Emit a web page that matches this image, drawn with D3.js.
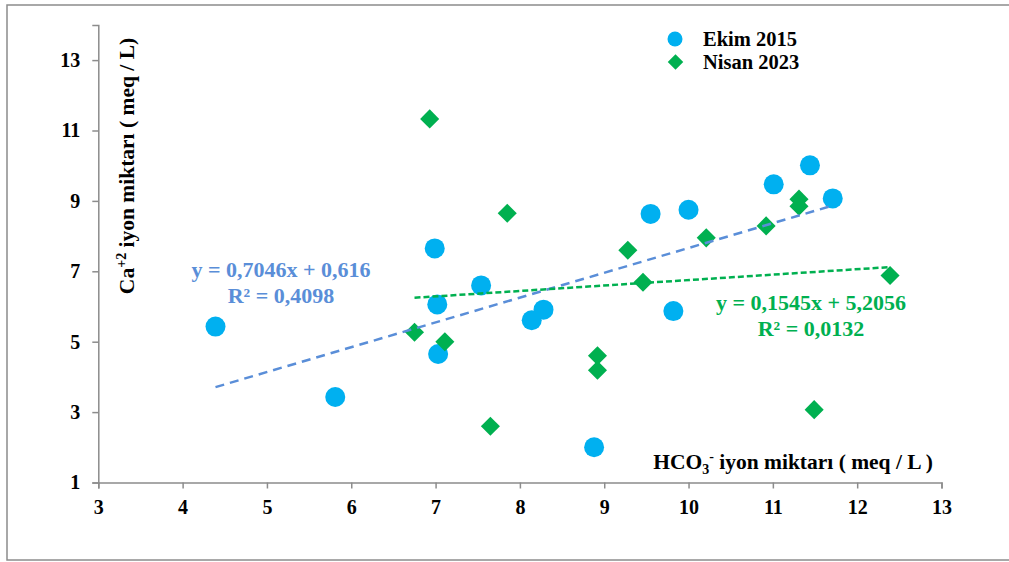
<!DOCTYPE html>
<html>
<head>
<meta charset="utf-8">
<script src="https://cdn.jsdelivr.net/npm/d3@7"></script>
<style>
  html, body { margin: 0; padding: 0; background: #fff; }
  svg { display: block; }
  text { font-family: "Liberation Serif", "Times New Roman", serif; font-weight: bold; }
</style>
</head>
<body>
<svg id="chart" width="1009" height="562"></svg>
<script>
// HCO3- (x) vs Ca+2 (y), meq/L
const ekimX = [4.39, 5.81, 6.99, 7.02, 7.03, 7.54, 8.14, 8.28, 8.88, 9.55, 10.00, 9.82, 11.01, 11.44, 11.71];
const ekimY = [5.43, 3.43, 7.65, 6.06, 4.65, 6.60, 5.61, 5.91, 2.00, 8.63, 8.75, 5.87, 9.47, 10.01, 9.07];

const nisanX = [6.75, 6.93, 7.11, 7.65, 7.85, 8.92, 8.92, 9.28, 9.46, 10.21, 10.92, 11.31, 11.31, 11.49, 12.39];
const nisanY = [5.27, 11.33, 5.00, 2.60, 8.65, 4.60, 4.19, 7.60, 6.69, 7.95, 8.29, 9.05, 8.85, 3.07, 6.88];

// Linear trendlines (slope, intercept, R²)
const ekimFit = { slope: 0.7046, intercept: 0.616, r2: "0,4098", eq: "y = 0,7046x + 0,616" };
const nisanFit = { slope: 0.1545, intercept: 5.2056, r2: "0,0132", eq: "y = 0,1545x + 5,2056" };

const seriesNames = ["Ekim 2015", "Nisan 2023"];
const xTicks = [3, 4, 5, 6, 7, 8, 9, 10, 11, 12, 13];
const yTicks = [1, 3, 5, 7, 9, 11, 13];

const blue = "#00B0F0", green = "#00B050", trendBlue = "#5A8ED8";

const svg = d3.select("#chart");

// outer chart frame
svg.append("rect")
  .attr("x", 7).attr("y", 5).attr("width", 1010).attr("height", 555)
  .attr("fill", "none").attr("stroke", "#8c8c8c").attr("stroke-width", 1.5);

const x = d3.scaleLinear().domain([3, 13]).range([98.3, 941.5]);
const y = d3.scaleLinear().domain([1, 14]).range([482.5, 24.9]);

// axes
const xAxis = svg.append("g").attr("transform", `translate(0,${y(1)})`)
  .call(d3.axisBottom(x).tickValues(xTicks).tickSize(6).tickPadding(10).tickFormat(d3.format("d")));
const yAxis = svg.append("g").attr("transform", `translate(${x(3)},0)`)
  .call(d3.axisLeft(y).tickValues(yTicks).tickSize(6).tickPadding(12).tickFormat(d3.format("d")));

[xAxis, yAxis].forEach(g => {
  g.select(".domain").attr("stroke", "#8c8c8c").attr("stroke-width", 1.5);
  g.selectAll(".tick line").attr("stroke", "#8c8c8c").attr("stroke-width", 1.5);
  g.selectAll(".tick text").attr("fill", "#000").style("font-size", "20px")
    .style("font-family", "'Liberation Serif', 'Times New Roman', serif").style("font-weight", "bold");
});
xAxis.selectAll(".tick text").attr("dy", "0.75em");

// axis titles
const yTitle = svg.append("text")
  .attr("transform", `translate(134,166) rotate(-90)`)
  .attr("text-anchor", "middle").attr("fill", "#000").style("font-size", "21.5px");
yTitle.append("tspan").text("Ca");
yTitle.append("tspan").text("+2").style("font-size", "14px").attr("dy", "-8");
yTitle.append("tspan").text(" iyon miktarı ( meq / L)").attr("dy", "8");

const xTitle = svg.append("text")
  .attr("x", 933).attr("y", 469)
  .attr("text-anchor", "end").attr("fill", "#000").style("font-size", "21.5px");
xTitle.append("tspan").text("HCO");
xTitle.append("tspan").text("3").style("font-size", "14px").attr("dy", "5");
xTitle.append("tspan").text("-").style("font-size", "14px").attr("dy", "-13");
xTitle.append("tspan").text(" iyon miktarı ( meq / L )").attr("dy", "8");

// trendlines
function trend(xs, fit, color, dash) {
  const x0 = d3.min(xs), x1 = d3.max(xs);
  svg.append("line")
    .attr("x1", x(x0)).attr("y1", y(fit.slope * x0 + fit.intercept))
    .attr("x2", x(x1)).attr("y2", y(fit.slope * x1 + fit.intercept))
    .attr("stroke", color).attr("stroke-width", 2.5).attr("stroke-dasharray", dash);
}

// markers
const ekim = ekimX.map((v, i) => ({ x: v, y: ekimY[i] }));
const nisan = nisanX.map((v, i) => ({ x: v, y: nisanY[i] }));

svg.append("g").selectAll("circle").data(ekim).join("circle")
  .attr("cx", d => x(d.x)).attr("cy", d => y(d.y)).attr("r", 10).attr("fill", blue);

const diamond = d3.symbol(d3.symbolSquare, 182);
svg.append("g").selectAll("path").data(nisan).join("path")
  .attr("d", diamond)
  .attr("transform", d => `translate(${x(d.x)},${y(d.y)}) rotate(45)`)
  .attr("fill", green);

trend(ekimX, ekimFit, trendBlue, "9,6");
trend(nisanX, nisanFit, green, "6,3");

// trendline equations
function eqLabel(cx, cy, fit, color) {
  const t = svg.append("text").attr("text-anchor", "middle").attr("fill", color).style("font-size", "22px");
  t.append("tspan").attr("x", cx).attr("y", cy).text(fit.eq);
  t.append("tspan").attr("x", cx).attr("y", cy + 26).text("R² = " + fit.r2);
}
eqLabel(281, 277, ekimFit, trendBlue);
eqLabel(811, 310, nisanFit, green);

// legend
const legend = svg.append("g");
legend.append("circle").attr("cx", 675).attr("cy", 39).attr("r", 7.5).attr("fill", blue);
legend.append("path").attr("d", d3.symbol(d3.symbolSquare, 120))
  .attr("transform", "translate(675.5,62) rotate(45)").attr("fill", green);
legend.selectAll("text.lg").data(seriesNames).join("text").attr("class", "lg")
  .attr("x", 703).attr("y", (d, i) => 46 + i * 23)
  .attr("fill", "#000").style("font-size", "20.5px").text(d => d);
</script>
</body>
</html>
